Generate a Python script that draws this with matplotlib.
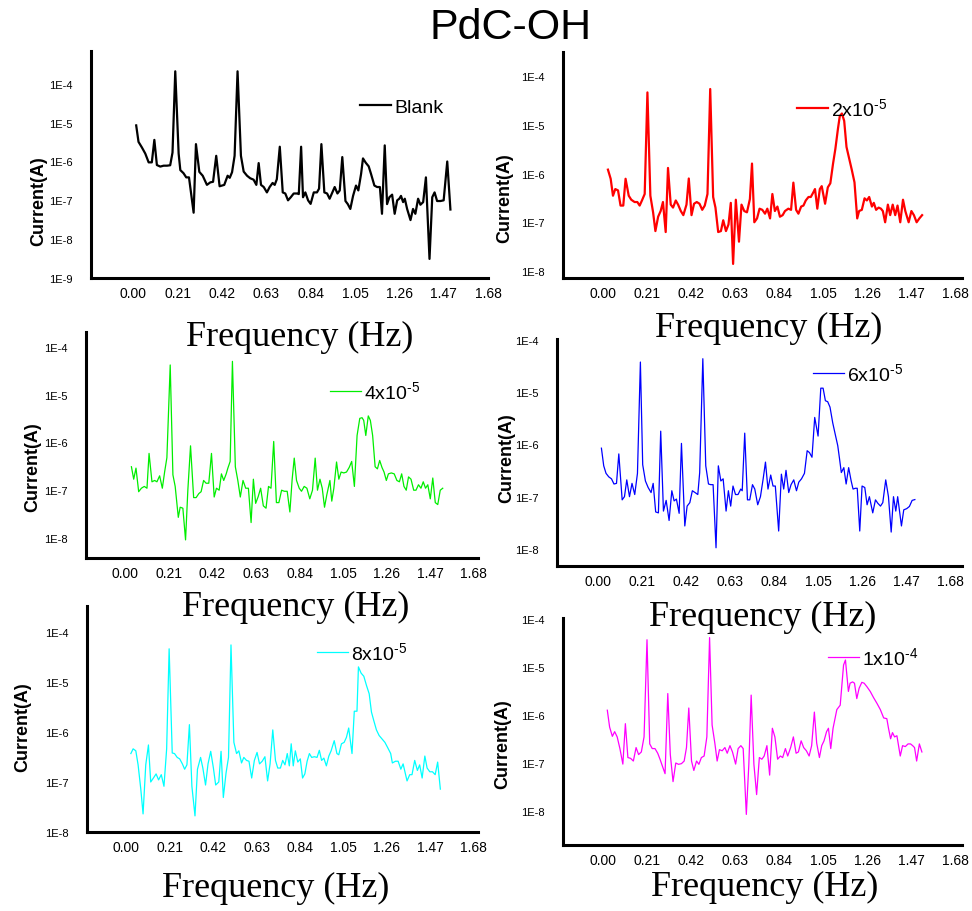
import matplotlib
matplotlib.use("Agg")
import matplotlib.pyplot as plt
import numpy as np

plt.rcParams['font.family'] = ['Liberation Sans', 'DejaVu Sans']
plt.rcParams['mathtext.fontset'] = 'custom'
plt.rcParams['mathtext.rm'] = 'Liberation Sans'
plt.rcParams['mathtext.it'] = 'Liberation Sans'

# ---- data (frequency in Hz, current in A) ----
freq_blank = [0.014, 0.025, 0.041, 0.057, 0.073, 0.088, 0.10, 0.112, 0.128, 0.144, 0.16, 0.175, 0.186, 0.199,
              0.215, 0.223, 0.238, 0.251, 0.264, 0.286, 0.297, 0.313, 0.329, 0.349, 0.365, 0.378, 0.393, 0.409,
              0.431, 0.447, 0.457, 0.468, 0.48, 0.494, 0.51, 0.523, 0.539, 0.554, 0.57, 0.583, 0.594, 0.605,
              0.618, 0.633, 0.646, 0.66, 0.67, 0.68, 0.694, 0.708, 0.72, 0.733, 0.746, 0.76, 0.776, 0.784,
              0.795, 0.804, 0.815, 0.828, 0.84, 0.855, 0.87, 0.88, 0.891, 0.905, 0.918, 0.93, 0.943, 0.954,
              0.967, 0.978, 0.99, 1.005, 1.016, 1.028, 1.041, 1.055, 1.066, 1.079, 1.088, 1.101, 1.115, 1.126,
              1.142, 1.155, 1.168, 1.178, 1.191, 1.202, 1.213, 1.226, 1.238, 1.25, 1.26, 1.268, 1.278, 1.286,
              1.297, 1.313, 1.325, 1.336, 1.349, 1.36, 1.373, 1.386, 1.403, 1.416, 1.427, 1.439, 1.455, 1.47,
              1.487, 1.502]
cur_blank = [8.5e-6, 3.2e-6, 2.3e-6, 1.6e-6, 9.5e-7, 9.5e-7, 3.6e-6, 8.1e-7, 7.4e-7, 7.8e-7, 7.8e-7, 8e-7, 1.7e-6, 2.1e-4,
             1.6e-6, 6e-7, 5e-7, 3.9e-7, 3.9e-7, 4.8e-8, 2.8e-6, 5.4e-7, 4.3e-7, 2.5e-7, 2.9e-7, 3e-7, 1.4e-6, 2.3e-7,
             2.5e-7, 4.3e-7, 3.8e-7, 5.3e-7, 1.4e-6, 2.1e-4, 1.4e-6, 5.5e-7, 4.3e-7, 3.7e-7, 3.4e-7, 2.5e-7, 9.1e-7, 2.5e-7,
             2.2e-7, 1.6e-7, 2.2e-7, 2.8e-7, 2.5e-7, 3.5e-7, 2.4e-6, 1.6e-7, 1.5e-7, 1.0e-7, 1.2e-7, 1.5e-7, 1.5e-7, 1.45e-7,
             2.4e-6, 1.2e-7, 1.6e-7, 1.0e-7, 8.1e-8, 1.6e-7, 1.6e-7, 2e-7, 2.8e-6, 1.6e-7, 1.5e-7, 1.1e-7, 1.6e-7, 2.2e-7,
             1.5e-7, 1.8e-7, 1.3e-6, 9.6e-8, 8e-8, 6e-8, 1.3e-7, 2.4e-7, 1.8e-7, 4.8e-7, 1.2e-6, 9.3e-7, 7.5e-7, 4.8e-7,
             2.4e-7, 2.2e-7, 2.2e-7, 4.5e-8, 2.6e-6, 8e-8, 1.2e-7, 1.4e-7, 4.5e-8, 1e-7, 1.1e-7, 1.3e-7, 9e-8, 1.1e-7,
             6e-8, 3.1e-8, 6e-8, 4.5e-8, 1.1e-7, 7.7e-8, 9e-8, 3.9e-7, 3.1e-9, 1.2e-7, 1.6e-7, 9.6e-8, 9.6e-8, 1e-7,
             1e-6, 5.8e-8]

freq_2e5 = [0.024, 0.037, 0.048, 0.059, 0.072, 0.084, 0.097, 0.108, 0.123, 0.135,
            0.151, 0.164, 0.175, 0.186, 0.199, 0.212, 0.226, 0.239, 0.25, 0.263,
            0.275, 0.286, 0.299, 0.31, 0.323, 0.334, 0.347, 0.358, 0.371, 0.383,
            0.398, 0.409, 0.422, 0.434, 0.447, 0.46, 0.473, 0.485, 0.498, 0.511,
            0.525, 0.536, 0.549, 0.562, 0.573, 0.586, 0.598, 0.609, 0.62, 0.633,
            0.648, 0.66, 0.673, 0.686, 0.7, 0.71, 0.721, 0.734, 0.746, 0.759,
            0.772, 0.783, 0.796, 0.807, 0.819, 0.831, 0.843, 0.856, 0.867, 0.883,
            0.896, 0.907, 0.92, 0.931, 0.944, 0.955, 0.966, 0.979, 0.99, 1.002,
            1.01, 1.021, 1.033, 1.042, 1.058, 1.071, 1.083, 1.096, 1.107, 1.119,
            1.128, 1.138, 1.149, 1.16, 1.173, 1.185, 1.198, 1.211, 1.22, 1.233,
            1.246, 1.257, 1.268, 1.281, 1.29, 1.301, 1.313, 1.324, 1.333, 1.344,
            1.357, 1.368, 1.38, 1.392, 1.403, 1.416, 1.429, 1.44, 1.456, 1.469,
            1.481, 1.494, 1.507, 1.52]
cur_2e5 = [1.2e-6, 7.8e-7, 3.5e-7, 4.8e-7, 4.5e-7, 2.2e-7, 2.2e-7, 7.8e-7, 3.5e-7, 2.9e-7,
           2.6e-7, 2.6e-7, 2.2e-7, 2.8e-7, 3.8e-7, 4.6e-5, 3.5e-7, 1.6e-7, 6.6e-8, 1.3e-7,
           1.7e-7, 2.6e-7, 6.3e-8, 1.3e-6, 2.3e-7, 2e-7, 2.8e-7, 2.3e-7, 1.7e-7, 1.4e-7,
           2.3e-7, 7.9e-7, 1.4e-7, 2.4e-7, 2.6e-7, 2.4e-7, 1.8e-7, 2.2e-7, 3.8e-7, 5.4e-5,
           3.3e-7, 2e-7, 6.3e-8, 6.6e-8, 1.1e-7, 6.6e-8, 9e-8, 2.5e-7, 1.4e-8, 2.9e-7,
           4e-8, 2.3e-7, 1.7e-7, 1.6e-7, 3e-7, 1.6e-6, 1e-7, 1.2e-7, 1.9e-7, 1.8e-7,
           1.5e-7, 1.9e-7, 1.2e-7, 3.8e-7, 1.7e-7, 2.1e-7, 1.3e-7, 1.4e-7, 1.7e-7, 1.9e-7,
           1.8e-7, 6.5e-7, 1.8e-7, 1.5e-7, 2.1e-7, 2.2e-7, 2.8e-7, 3.3e-7, 3.3e-7, 4.1e-7,
           4.8e-7, 1.9e-7, 4.8e-7, 5.5e-7, 2.4e-7, 5.2e-7, 6.3e-7, 1.6e-6, 3.2e-6, 8.1e-6,
           1.5e-5, 1.7e-5, 1.2e-5, 3.5e-6, 2e-6, 1.2e-6, 6.6e-7, 1.2e-7, 1.7e-7, 1.8e-7,
           3.1e-7, 2.8e-7, 3.3e-7, 2.1e-7, 2.5e-7, 1.8e-7, 2e-7, 1.9e-7, 1.7e-7, 1e-7,
           2.3e-7, 1.4e-7, 2.3e-7, 1.4e-7, 2.2e-7, 1e-7, 2.9e-7, 1.7e-7, 1e-7, 1.7e-7,
           1.4e-7, 1e-7, 1.2e-7, 1.4e-7]

freq_4e5 = [0.029, 0.04, 0.051, 0.064, 0.077, 0.091, 0.104, 0.114, 0.128, 0.141,
            0.152, 0.165, 0.178, 0.189, 0.2, 0.216, 0.229, 0.24, 0.255, 0.264,
            0.277, 0.29, 0.301, 0.314, 0.329, 0.341, 0.354, 0.365, 0.377, 0.389,
            0.402, 0.415, 0.428, 0.439, 0.452, 0.463, 0.474, 0.486, 0.494, 0.505,
            0.516, 0.53, 0.542, 0.554, 0.567, 0.58, 0.593, 0.606, 0.617, 0.628,
            0.64, 0.652, 0.665, 0.678, 0.69, 0.702, 0.715, 0.728, 0.74, 0.753,
            0.766, 0.78, 0.793, 0.804, 0.814, 0.825, 0.838, 0.849, 0.862, 0.875,
            0.889, 0.902, 0.915, 0.926, 0.938, 0.949, 0.96, 0.971, 0.986, 0.995,
            1.005, 1.018, 1.029, 1.04, 1.053, 1.066, 1.079, 1.091, 1.104, 1.117,
            1.13, 1.141, 1.149, 1.159, 1.171, 1.181, 1.192, 1.204, 1.215, 1.226,
            1.237, 1.247, 1.258, 1.268, 1.282, 1.296, 1.309, 1.321, 1.332, 1.343,
            1.354, 1.365, 1.377, 1.39, 1.401, 1.413, 1.425, 1.436, 1.447, 1.458,
            1.47, 1.482, 1.494, 1.506, 1.518, 1.53]
cur_4e5 = [3.1e-7, 1.7e-7, 2.9e-7, 9.3e-8, 1.1e-7, 1.2e-7, 1.1e-7, 5.9e-7, 1.5e-7, 1.6e-7,
           1.5e-7, 2e-7, 1.1e-7, 2.4e-7, 4.8e-7, 4.2e-5, 2.1e-7, 1.2e-7, 2.7e-8, 4.4e-8,
           4.2e-8, 9.1e-9, 1e-7, 8.5e-7, 7e-8, 7e-8, 8.5e-8, 9.3e-8, 1.6e-7, 1.4e-7,
           1.4e-7, 5.9e-7, 7.2e-8, 1.1e-7, 1e-7, 2.2e-7, 1.6e-7, 2.2e-7, 2.9e-7, 4e-7,
           5e-5, 3.1e-7, 1.6e-7, 7.2e-8, 1.6e-7, 1.1e-7, 1.1e-7, 2.1e-8, 1.7e-7, 5.3e-8,
           7.3e-8, 1.1e-7, 4.7e-8, 4.2e-8, 1.2e-7, 1.1e-7, 1.05e-6, 5.5e-8, 5.5e-8, 1e-7,
           9.5e-8, 9.5e-8, 3.5e-8, 1.7e-7, 4.7e-7, 1.6e-7, 1.1e-7, 9.5e-8, 1.2e-7, 1.1e-7,
           6.6e-8, 1e-7, 4.7e-7, 1e-7, 1.7e-7, 1.1e-7, 4.4e-8, 8e-8, 1.6e-7, 5.9e-8,
           1.1e-7, 3.9e-7, 1.7e-7, 2.4e-7, 2.3e-7, 2.4e-7, 3e-7, 4e-7, 1.2e-7, 1.4e-6,
           3.2e-6, 3.3e-6, 2.9e-6, 1.4e-6, 3.6e-6, 2.9e-6, 1.4e-6, 3.1e-7, 2.8e-7, 4.2e-7,
           3e-7, 2.4e-7, 1.6e-7, 2.2e-7, 2.3e-7, 2.2e-7, 1.6e-7, 1.5e-7, 2.2e-7, 1.2e-7,
           1e-7, 1.9e-7, 1.7e-7, 1e-7, 1e-7, 1.3e-7, 1.1e-7, 1.5e-7, 1.1e-7, 1.3e-7,
           6.6e-8, 1.8e-7, 5.5e-8, 5e-8, 1e-7, 1.1e-7]

freq_6e5 = [0.016, 0.027, 0.038, 0.051, 0.064, 0.076, 0.088, 0.099, 0.115, 0.126,
            0.137, 0.15, 0.162, 0.175, 0.188, 0.202, 0.213, 0.226, 0.239, 0.253,
            0.263, 0.275, 0.288, 0.299, 0.312, 0.325, 0.339, 0.352, 0.363, 0.374,
            0.387, 0.398, 0.414, 0.425, 0.438, 0.45, 0.463, 0.476, 0.485, 0.5,
            0.514, 0.527, 0.538, 0.549, 0.563, 0.574, 0.586, 0.597, 0.611, 0.622,
            0.633, 0.644, 0.656, 0.668, 0.681, 0.688, 0.7, 0.713, 0.724, 0.737,
            0.748, 0.762, 0.775, 0.788, 0.799, 0.811, 0.824, 0.835, 0.846, 0.862,
            0.875, 0.886, 0.897, 0.91, 0.921, 0.934, 0.947, 0.958, 0.971, 0.985,
            0.998, 1.009, 1.021, 1.034, 1.05, 1.063, 1.074, 1.085, 1.096, 1.107,
            1.12, 1.133, 1.144, 1.152, 1.161, 1.173, 1.184, 1.196, 1.208, 1.217,
            1.228, 1.237, 1.249, 1.26, 1.273, 1.284, 1.295, 1.311, 1.324, 1.335,
            1.348, 1.359, 1.373, 1.386, 1.399, 1.41, 1.421, 1.43, 1.448, 1.459,
            1.473, 1.486, 1.499, 1.512]
cur_6e5 = [8.5e-7, 3.9e-7, 2.8e-7, 2.4e-7, 2.2e-7, 1.75e-7, 1.8e-7, 6.6e-7, 8.7e-8, 1e-7,
           2.1e-7, 1e-7, 1.8e-7, 1.1e-7, 2.8e-7, 3.8e-5, 4.1e-7, 2e-7, 1.5e-7, 1.2e-7,
           1.8e-7, 5.1e-8, 4.9e-8, 1.8e-6, 5.3e-8, 8.5e-8, 3.5e-8, 1.3e-7, 8.3e-8, 9e-8,
           4.8e-8, 1.05e-6, 2.75e-8, 6.6e-8, 7.7e-8, 1.3e-7, 1.2e-7, 1.1e-7, 2.9e-7, 4.4e-5,
           3.9e-7, 1.75e-7, 1.7e-7, 1.7e-7, 1.05e-8, 3.9e-7, 2e-7, 2.2e-7, 5.3e-8, 1.3e-7,
           6.6e-8, 1.6e-7, 1.1e-7, 1.1e-7, 1.4e-7, 1.3e-7, 1.65e-6, 8.7e-8, 8.7e-8, 1.7e-7,
           1.4e-7, 7e-8, 1e-7, 2.2e-7, 4.6e-7, 1.4e-7, 2.6e-7, 1.6e-7, 1.6e-7, 2.2e-8,
           2.7e-7, 1.4e-7, 3.2e-7, 1.2e-7, 1.7e-7, 2.1e-7, 1.3e-7, 1.9e-7, 2.2e-7, 2.8e-7,
           7.6e-7, 7e-7, 5.7e-7, 3.3e-6, 1.45e-6, 1.2e-5, 1.2e-5, 6.9e-6, 6.6e-6, 5.2e-6,
           2.6e-6, 1.5e-6, 9.5e-7, 5.5e-7, 2.9e-7, 3.6e-7, 1.75e-7, 3.6e-7, 2e-7, 1.4e-7,
           1.45e-7, 1.45e-7, 2.2e-8, 1.6e-7, 1.5e-7, 7e-8, 1e-7, 4.9e-8, 8.7e-8, 7.5e-8,
           6.6e-8, 7.7e-8, 2.1e-7, 1e-7, 2.1e-8, 1e-7, 5.3e-8, 1e-7, 2.75e-8, 5.6e-8,
           5.9e-8, 6.5e-8, 8.5e-8, 8.8e-8]

freq_8e5 = [0.022, 0.033, 0.046, 0.057, 0.07, 0.081, 0.094, 0.107, 0.118, 0.131,
            0.144, 0.156, 0.169, 0.182, 0.195, 0.207, 0.222, 0.233, 0.246, 0.258,
            0.271, 0.282, 0.293, 0.305, 0.317, 0.332, 0.344, 0.359, 0.37, 0.383,
            0.395, 0.408, 0.421, 0.432, 0.447, 0.458, 0.469, 0.482, 0.494, 0.506,
            0.52, 0.533, 0.544, 0.557, 0.568, 0.581, 0.593, 0.606, 0.619, 0.632,
            0.644, 0.657, 0.67, 0.683, 0.695, 0.708, 0.721, 0.732, 0.745, 0.756,
            0.767, 0.778, 0.788, 0.797, 0.807, 0.817, 0.829, 0.841, 0.852, 0.863,
            0.874, 0.885, 0.896, 0.909, 0.922, 0.933, 0.944, 0.955, 0.967, 0.979,
            0.99, 1.005, 1.018, 1.027, 1.04, 1.053, 1.064, 1.075, 1.091, 1.102,
            1.115, 1.122, 1.135, 1.148, 1.161, 1.174, 1.185, 1.196, 1.209, 1.222,
            1.238, 1.25, 1.263, 1.278, 1.286, 1.301, 1.314, 1.327, 1.338, 1.357,
            1.37, 1.381, 1.394, 1.407, 1.418, 1.43, 1.443, 1.454, 1.467, 1.48,
            1.493, 1.505, 1.518]
cur_8e5 = [3.7e-7, 4.6e-7, 4.2e-7, 2.2e-7, 7.2e-8, 2.3e-8, 2.2e-7, 5.5e-7, 1e-7, 1.2e-7,
           1.45e-7, 1.1e-7, 1.4e-7, 8.2e-8, 4.6e-7, 4.6e-5, 3.8e-7, 3.7e-7, 3.1e-7, 2.9e-7,
           2.3e-7, 1.8e-7, 2.2e-7, 1.4e-6, 8.2e-8, 2.1e-8, 1.8e-7, 3.1e-7, 1.9e-7, 8.7e-8,
           2.3e-7, 4.1e-7, 1.9e-7, 8.7e-8, 1e-7, 4.1e-7, 4.9e-8, 1.5e-7, 3.1e-7, 5.5e-5,
           6.2e-7, 3.7e-7, 4.2e-7, 2.4e-7, 3.1e-7, 2.7e-7, 2.6e-7, 1.2e-7, 2.7e-7, 3.9e-7,
           2.3e-7, 2.6e-7, 3.2e-7, 1.05e-7, 2.3e-7, 1.1e-6, 2.7e-7, 1.9e-7, 1.9e-7, 2.7e-7,
           2.2e-7, 3.7e-7, 2.1e-7, 5.8e-7, 2.1e-7, 4.2e-7, 2.5e-7, 2.9e-7, 1.2e-7, 1.45e-7,
           2.6e-7, 3.7e-7, 3.1e-7, 3.2e-7, 3.1e-7, 4.3e-7, 2.7e-7, 3e-7, 2.1e-7, 3.3e-7,
           4.2e-7, 6.7e-7, 3.7e-7, 3.5e-7, 5.8e-7, 6.2e-7, 7.8e-7, 1.2e-6, 3.7e-7, 2.6e-6,
           2.6e-6, 2e-5, 1.5e-5, 1.3e-5, 8.5e-6, 5.8e-6, 2.5e-6, 1.7e-6, 1.1e-6, 8.5e-7,
           7.1e-7, 6.2e-7, 4.9e-7, 3.7e-7, 2.4e-7, 2.6e-7, 2.6e-7, 1.8e-7, 2.3e-7, 1.05e-7,
           1.4e-7, 1.4e-7, 2.7e-7, 1.7e-7, 2.2e-7, 1.2e-7, 3.3e-7, 1.9e-7, 1.6e-7, 1.6e-7,
           1.4e-7, 2.5e-7, 7.2e-8]

freq_1e4 = [0.021, 0.032, 0.045, 0.056, 0.068, 0.081, 0.095, 0.107, 0.119, 0.132,
            0.145, 0.158, 0.17, 0.183, 0.196, 0.21, 0.223, 0.235, 0.248, 0.261,
            0.272, 0.283, 0.296, 0.309, 0.321, 0.334, 0.347, 0.36, 0.374, 0.387,
            0.398, 0.409, 0.422, 0.433, 0.446, 0.457, 0.469, 0.482, 0.495, 0.508,
            0.52, 0.533, 0.544, 0.555, 0.568, 0.581, 0.592, 0.605, 0.617, 0.632,
            0.644, 0.657, 0.668, 0.683, 0.695, 0.706, 0.719, 0.732, 0.745, 0.757,
            0.768, 0.781, 0.794, 0.807, 0.819, 0.832, 0.845, 0.856, 0.869, 0.88,
            0.894, 0.907, 0.92, 0.931, 0.944, 0.956, 0.969, 0.982, 0.994, 1.007,
            1.018, 1.031, 1.042, 1.053, 1.065, 1.074, 1.085, 1.096, 1.114, 1.13,
            1.146, 1.155, 1.169, 1.177, 1.189, 1.198, 1.209, 1.22, 1.233, 1.244,
            1.257, 1.273, 1.289, 1.305, 1.321, 1.337, 1.352, 1.36, 1.37, 1.379,
            1.389, 1.4, 1.416, 1.427, 1.44, 1.453, 1.465, 1.475, 1.484, 1.494,
            1.507, 1.519]
cur_1e4 = [1.26e-6, 5.6e-7, 3.6e-7, 4.5e-7, 3.5e-7, 2e-7, 9.5e-8, 6.6e-7, 1.3e-7, 1.25e-7,
           1.1e-7, 2.1e-7, 1.5e-7, 1.7e-7, 3.5e-7, 3.7e-5, 2.5e-7, 2e-7, 2e-7, 1.6e-7,
           1.2e-7, 8.7e-8, 6e-8, 2.8e-6, 1.5e-7, 4.1e-8, 1e-7, 9.4e-8, 9.7e-8, 1.1e-7,
           2.1e-7, 1.4e-6, 1.1e-7, 7e-8, 1.1e-7, 9.4e-8, 1.3e-7, 1.4e-7, 3.5e-7, 4.1e-5,
           6.2e-7, 2.6e-7, 1.1e-7, 1.9e-7, 1.8e-7, 2.1e-7, 1.6e-7, 2.3e-7, 1.7e-7, 9.5e-8,
           2e-7, 2.3e-7, 2e-7, 8.5e-9, 9.5e-8, 2.6e-6, 9.5e-8, 2.2e-8, 1.3e-7, 1.2e-7,
           1.4e-7, 2.3e-7, 5.6e-8, 5.3e-7, 3.5e-7, 1.2e-7, 1.4e-7, 1.3e-7, 2e-7, 1.4e-7,
           2.1e-7, 3.5e-7, 1.6e-7, 1.7e-7, 2.9e-7, 2.1e-7, 1.8e-7, 1.4e-7, 2.3e-7, 1.15e-6,
           2.6e-7, 1.3e-7, 2.3e-7, 2.9e-7, 4.5e-7, 5.3e-7, 2e-7, 5.3e-7, 1.3e-6, 1.6e-6,
           1.1e-5, 1.4e-5, 3.1e-6, 4.6e-6, 4.9e-6, 4.6e-6, 2.2e-6, 3.6e-6, 4.8e-6, 4.6e-6,
           3.9e-6, 3.1e-6, 2.3e-6, 1.75e-6, 1.3e-6, 8.7e-7, 8.4e-7, 5.3e-7, 3.2e-7, 4.3e-7,
           3.5e-7, 3.7e-7, 1.4e-7, 2.3e-7, 2.2e-7, 2.5e-7, 2.5e-7, 2.3e-7, 2.1e-7, 1.1e-7,
           2.5e-7, 1.7e-7]

labels = ['Blank', r'2x10$^{\text{-5}}$', r'4x10$^{\text{-5}}$', r'6x10$^{\text{-5}}$',
          r'8x10$^{\text{-5}}$', r'1x10$^{\text{-4}}$']
colors = ['black', '#ff0000', '#00ee00', '#0000ff', '#00ffff', '#ff00ff']
freqs = [freq_blank, freq_2e5, freq_4e5, freq_6e5, freq_8e5, freq_1e4]
currents = [cur_blank, cur_2e5, cur_4e5, cur_6e5, cur_8e5, cur_1e4]
xticks = [0.00, 0.21, 0.42, 0.63, 0.84, 1.05, 1.26, 1.47, 1.68]

W, H = 972, 912
fig = plt.figure(figsize=(W / 100, H / 100), dpi=100)

# each panel was pasted separately, so give each its own box (pixels)
boxes = [(91, 52, 488, 279), (563, 53, 962, 279),
         (86, 333, 478, 559), (557, 340, 962, 567),
         (87, 607, 478, 833), (563, 619, 962, 846)]
xlims = [(-0.2, 1.68), (-0.19, 1.71), (-0.19, 1.70), (-0.196, 1.737), (-0.19, 1.70), (-0.19, 1.71)]
ylims = [(1e-9, 7e-4), (7.2e-9, 3.1e-4), (3.8e-9, 2.06e-4), (4.7e-9, 1.05e-4), (1e-8, 3.3e-4), (1.96e-9, 1.05e-4)]
ylabel_pos = [(39, 201), (505, 198), (33, 467), (507, 458), (23, 727), (503, 744)]
xlabel_pos = [(300, 337), (769, 328), (296, 607), (763, 617), (276, 888), (765, 887)]
legend_pos = [(360, 108), (797, 109), (330, 392), (813, 374), (317, 653), (828, 658)]
widths = [1.6, 1.6, 0.9, 0.9, 0.9, 0.9]


def fx(x):
    return x / W


def fy(y):
    return 1 - y / H


for i in range(6):
    l, t, r, b = boxes[i]
    ax = fig.add_axes([fx(l), fy(b), (r - l) / W, (b - t) / H])
    ax.plot(freqs[i], currents[i], color=colors[i], lw=widths[i], label=labels[i])
    ax.set_yscale('log')
    ax.set_xlim(*xlims[i])
    ax.set_ylim(*ylims[i])
    ax.set_xticks(xticks)
    ax.set_xticklabels(['%.2f' % v for v in xticks], fontsize=10)
    lo = int(np.ceil(np.log10(ylims[i][0]) - 1e-9))
    hi = int(np.floor(np.log10(ylims[i][1]) + 1e-9))
    yt = [10.0 ** k for k in range(lo, hi + 1)]
    ax.set_yticks(yt)
    ax.set_yticklabels(['1E%d' % k for k in range(lo, hi + 1)], fontsize=8)
    ax.yaxis.set_minor_locator(matplotlib.ticker.NullLocator())
    ax.tick_params(axis='y', length=0, pad=13)
    ax.tick_params(axis='x', length=0, pad=6)
    for s in ['top', 'right']:
        ax.spines[s].set_visible(False)
    for s in ['left', 'bottom']:
        ax.spines[s].set_linewidth(2.2)
    ax.patch.set_alpha(0)

    lx, ly = legend_pos[i]
    ax.legend(loc='center left', bbox_to_anchor=(fx(lx), fy(ly)), bbox_transform=fig.transFigure,
              frameon=False, fontsize=14, handlelength=1.6, handletextpad=0.15,
              borderpad=0, borderaxespad=0)

    px, py = ylabel_pos[i]
    fig.text(fx(px), fy(py), 'Current(A)', rotation=90, ha='center', va='center',
             fontsize=13, fontweight='bold')
    px, py = xlabel_pos[i]
    fig.text(fx(px), fy(py), 'Frequency (Hz)', ha='center', va='center', fontsize=26,
             family=['Liberation Serif', 'DejaVu Serif'])

fig.text(fx(511), fy(28), 'PdC-OH', ha='center', va='center', fontsize=31)

fig.savefig('out.png', dpi=100)
